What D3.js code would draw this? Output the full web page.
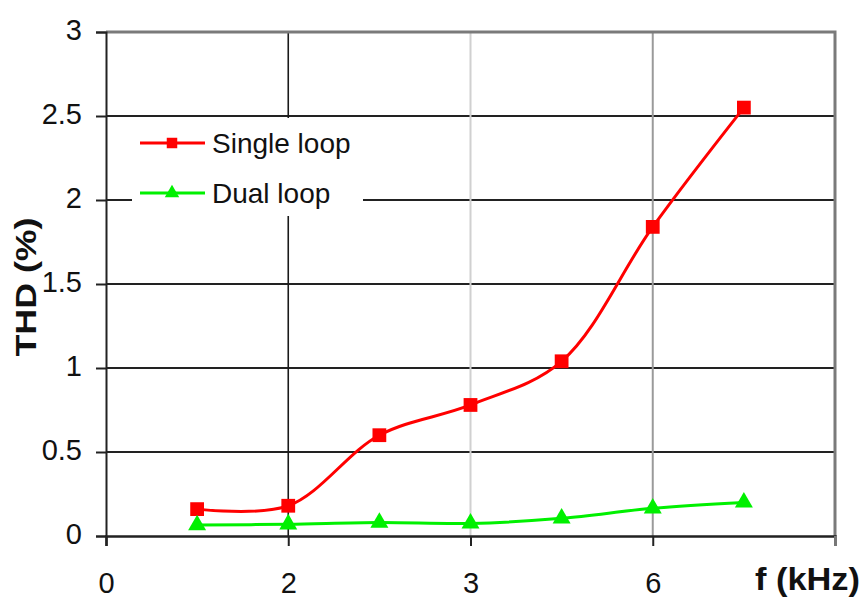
<!DOCTYPE html>
<html>
<head>
<meta charset="utf-8">
<script src="https://cdn.jsdelivr.net/npm/d3@7"></script>
<style>
  html, body { margin: 0; padding: 0; background: #fff; }
  svg { display: block; }
  text { font-family: "Liberation Sans", Arial, sans-serif; }
</style>
</head>
<body>
<svg id="chart" width="868" height="599"></svg>
<script>
// Frequency positions (axis slot index) of the measured points
const xSlots = [0.5, 1, 1.5, 2, 2.5, 3, 3.5];
// THD (%) for each controller
const singleLoop = [0.16, 0.18, 0.60, 0.78, 1.04, 1.84, 2.55];
const dualLoop   = [0.065, 0.07, 0.08, 0.075, 0.105, 0.165, 0.20];
// Axis ticks
const xTickSlots  = [0, 1, 2, 3, 4];
const xTickLabels = ["0", "2", "3", "6", ""];
const yTicks      = [0, 0.5, 1, 1.5, 2, 2.5, 3];
const seriesNames = ["Single loop", "Dual loop"];

const svg = d3.select("#chart");
const L = 106, R = 835, T = 32, B = 536;

const x = d3.scaleLinear().domain([0, 4]).range([L, R]);
const y = d3.scaleLinear().domain([0, 3]).range([B, T]);

// horizontal gridlines
svg.append("g").selectAll("line")
  .data(yTicks.filter(v => v > 0 && v < 3))
  .join("line")
  .attr("x1", L).attr("x2", R)
  .attr("y1", d => y(d)).attr("y2", d => y(d))
  .attr("stroke", "#222").attr("stroke-width", 2);

// vertical gridlines, each drawn with its own shade
const vShade = ["#1a1a1a", "#d0d0d0", "#9a9a9a"];
svg.append("g").selectAll("line")
  .data(xTickSlots.slice(1, 4))
  .join("line")
  .attr("x1", d => x(d)).attr("x2", d => x(d))
  .attr("y1", T).attr("y2", B)
  .attr("stroke", (d, i) => vShade[i])
  .attr("stroke-width", (d, i) => i === 0 ? 1.6 : 2);

// top and right frame
svg.append("path")
  .attr("d", `M${L},${T}H${R}V${B}`)
  .attr("fill", "none").attr("stroke", "#7a7a7a").attr("stroke-width", 3);

// y axis
const yAxis = d3.axisLeft(y).tickValues(yTicks).tickSize(10).tickPadding(14)
  .tickFormat(d => String(d));
const gy = svg.append("g").attr("transform", `translate(${L},0)`).call(yAxis);
gy.select(".domain").attr("stroke", "#222").attr("stroke-width", 2);
gy.selectAll(".tick line").attr("stroke", "#222").attr("stroke-width", 2);
gy.selectAll(".tick text")
  .attr("font-size", 29).attr("fill", "#111")
  .attr("font-family", "Liberation Sans, Arial, sans-serif")
  .attr("dy", "0.26em");

// x axis
const xAxis = d3.axisBottom(x).tickValues(xTickSlots).tickSize(10).tickPadding(26)
  .tickFormat((d, i) => xTickLabels[i]);
const gx = svg.append("g").attr("transform", `translate(0,${B})`).call(xAxis);
gx.select(".domain").attr("stroke", "#222").attr("stroke-width", 2.5);
gx.selectAll(".tick line").attr("stroke", "#222").attr("stroke-width", 2);
gx.selectAll(".tick text")
  .attr("font-size", 29).attr("fill", "#111")
  .attr("font-family", "Liberation Sans, Arial, sans-serif");
gx.select(".tick:last-of-type line").attr("stroke", "#777").attr("stroke-width", 3);

// axis titles
svg.append("text")
  .attr("x", 755).attr("y", 590)
  .attr("font-size", 32).attr("font-weight", "bold").attr("fill", "#111")
  .attr("textLength", 105).attr("lengthAdjust", "spacingAndGlyphs")
  .text("f (kHz)");

svg.append("text")
  .attr("transform", "translate(36,287) rotate(-90)")
  .attr("text-anchor", "middle")
  .attr("font-size", 30).attr("font-weight", "bold").attr("fill", "#111")
  .attr("textLength", 139).attr("lengthAdjust", "spacingAndGlyphs")
  .text("THD (%)");

// series
const line = d3.line().curve(d3.curveCatmullRom.alpha(0.5));
const series = [
  { name: seriesNames[0], values: singleLoop, color: "#ff0000", shape: d3.symbolSquare, size: 190 },
  { name: seriesNames[1], values: dualLoop,   color: "#00f000", shape: d3.symbolTriangle, size: 140 }
];

series.forEach(s => {
  const pts = xSlots.map((xv, i) => [x(xv), y(s.values[i])]);
  svg.append("path")
    .attr("d", line(pts))
    .attr("fill", "none").attr("stroke", s.color).attr("stroke-width", 3);
  svg.append("g").selectAll("path")
    .data(pts).join("path")
    .attr("transform", d => `translate(${d[0]},${d[1]})`)
    .attr("d", d3.symbol(s.shape, s.size))
    .attr("fill", s.color);
});

// legend
const lg = svg.append("g");
lg.append("rect")
  .attr("x", 132).attr("y", 118).attr("width", 231).attr("height", 98)
  .attr("fill", "#fff");
const legendY = [143, 193];
series.forEach((s, i) => {
  const yy = legendY[i];
  lg.append("line").attr("x1", 140).attr("x2", 205).attr("y1", yy).attr("y2", yy)
    .attr("stroke", s.color).attr("stroke-width", 3);
  lg.append("path").attr("transform", `translate(172,${yy})`)
    .attr("d", d3.symbol(s.shape, i === 0 ? 110 : 90)).attr("fill", s.color);
  lg.append("text").attr("x", 212).attr("y", yy + 10)
    .attr("font-size", 28).attr("fill", "#111").text(s.name);
});
</script>
</body>
</html>
